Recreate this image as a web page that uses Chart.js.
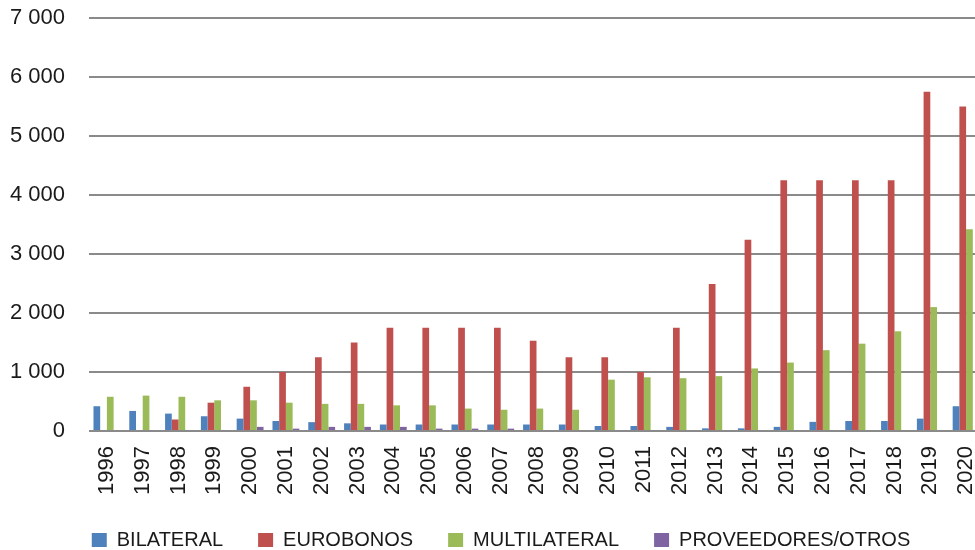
<!DOCTYPE html>
<html>
<head>
<meta charset="utf-8">
<script src="https://cdn.jsdelivr.net/npm/chart.js@4/dist/chart.umd.min.js"></script>
<style>
  html, body { margin: 0; padding: 0; background: #fff; overflow: hidden; }
  #wrap { width: 1002px; height: 550px; position: relative; }
</style>
</head>
<body>
<div id="wrap"><canvas id="chart"></canvas></div>
<script>
// Años
const years = ['1996','1997','1998','1999','2000','2001','2002','2003','2004','2005','2006','2007','2008',
               '2009','2010','2011','2012','2013','2014','2015','2016','2017','2018','2019','2020'];

// Montos por tipo de acreedor
const bilateral   = [420, 340, 295, 250, 210, 170, 150, 130, 110, 110, 110, 110, 110,
                     110, 85, 85, 70, 45, 45, 70, 155, 170, 170, 210, 420];
const eurobonos   = [0, 0, 195, 480, 750, 1000, 1250, 1500, 1750, 1750, 1750, 1750, 1530,
                     1250, 1250, 1000, 1750, 2490, 3240, 4250, 4250, 4250, 4250, 5750, 5500];
const multilateral = [580, 600, 580, 520, 520, 480, 460, 460, 435, 435, 380, 360, 380,
                      360, 870, 910, 895, 930, 1060, 1160, 1370, 1480, 1690, 2100, 3420];
const proveedores = [0, 0, 0, 0, 70, 40, 70, 70, 70, 40, 40, 40, 0,
                     0, 0, 0, 0, 0, 0, 0, 0, 0, 0, 0, 0];

const seriesNames = ['BILATERAL', 'EUROBONOS', 'MULTILATERAL', 'PROVEEDORES/OTROS'];
const yTicks = [0, 1000, 2000, 3000, 4000, 5000, 6000, 7000];

const colors = ['#4F81BD', '#C0504D', '#9BBB59', '#8064A2'];
const FONT = '"Liberation Sans", Arial, sans-serif';

// miles separados por espacio: 7 000
const fmt = v => String(Math.round(v)).replace(/\B(?=(\d{3})+(?!\d))/g, ' ');

// desplaza ligeramente la leyenda hacia la derecha
const legendShift = {
  id: 'legendShift',
  afterLayout(chart) {
    if (chart.legend) { chart.legend.left += 4; chart.legend.right += 4; }
  }
};

new Chart(document.getElementById('chart'), {
  type: 'bar',
  data: {
    labels: years,
    datasets: [bilateral, eurobonos, multilateral, proveedores].map((d, i) => ({
      label: seriesNames[i],
      data: d,
      backgroundColor: colors[i],
      borderWidth: 0,
      categoryPercentage: 0.75,
      barPercentage: 1.0
    }))
  },
  plugins: [legendShift],
  options: {
    responsive: true,
    maintainAspectRatio: false,
    animation: false,
    layout: { padding: { left: 10, right: 18, top: 18, bottom: -10 } },
    plugins: {
      tooltip: { enabled: false },
      legend: {
        position: 'bottom',
        labels: {
          font: { family: FONT, size: 20 },
          color: '#1a1a1a',
          boxWidth: 15,
          boxHeight: 14,
          padding: 35
        }
      }
    },
    scales: {
      x: {
        grid: { display: false, drawTicks: false },
        border: { display: false },
        afterFit: s => { s.height = 64; s.paddingLeft = 0; s.paddingRight = 0; },
        ticks: {
          autoSkip: false,
          maxRotation: 90,
          minRotation: 90,
          padding: 15,
          color: '#1a1a1a',
          font: { family: FONT, size: 22 }
        }
      },
      y: {
        min: 0,
        max: 7000,
        afterBuildTicks: axis => { axis.ticks = yTicks.map(v => ({ value: v })); },
        afterFit: s => { s.width = 79; s.paddingTop = 0; s.paddingBottom = 0; },
        grid: { color: '#8a8a8a', lineWidth: 2, drawTicks: false },
        border: { display: false },
        ticks: {
          padding: 24,
          color: '#1a1a1a',
          font: { family: FONT, size: 22 },
          callback: v => fmt(v)
        }
      }
    }
  }
});
</script>
</body>
</html>
